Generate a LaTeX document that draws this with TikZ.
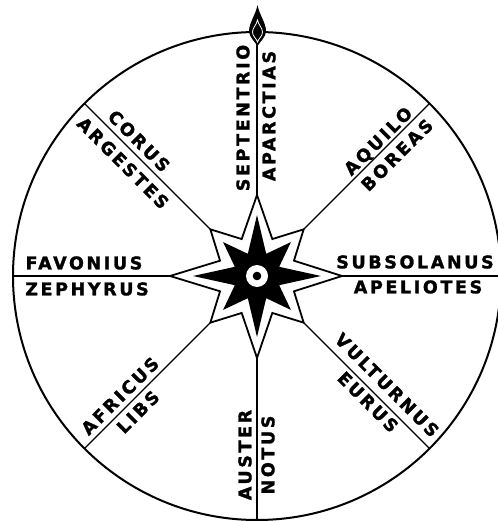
\documentclass[tikz,border=0pt]{standalone}
\usepackage{fontspec}
\newfontfamily\lblfont{DejaVu Sans Bold}[LetterSpace=15, FakeBold=1.6]
\begin{document}
\begin{tikzpicture}[x=1pt,y=-1pt,
  lbl/.style={font=\lblfont\fontsize{17.5}{17.5}\selectfont, inner sep=0pt, text height=12.7pt, text depth=0pt},
  rim/.style={line width=2pt},
  ray/.style={line width=1.3pt},
  starline/.style={line width=1.8pt, line join=miter}]
\useasboundingbox[fill=white] (0,0) rectangle (497,521);
\coordinate (c) at (257,276);
% rim
\draw[rim] (c) circle (244pt);
% rays
\foreach \a in {0,45,...,315}{
  \draw[ray] (c) -- ++(\a:244);
}
% top ornament
\fill (257.5,5) .. controls (259,14) and (266,23) .. (266,31) .. controls (266,37) and (260.5,41) .. (257.5,46)
  .. controls (254.5,41) and (249,37) .. (249,31) .. controls (249,23) and (256,14) .. (257.5,5) -- cycle;
\draw[white, line width=0.8pt] (257.5,20) .. controls (258.5,25) and (262.5,28) .. (262.5,32) .. controls (262.5,36) and (259,38) .. (257.5,42)
  .. controls (256,38) and (252.5,36) .. (252.5,32) .. controls (252.5,28) and (256.5,25) .. (257.5,20) -- cycle;
% star
\begin{scope}[shift={(c)}]
\draw[starline, fill=white] (0:85) -- (22.5:40) -- (45:66) -- (67.5:40) -- (90:82) -- (112.5:40) -- (135:66) -- (157.5:40)
  -- (180:87) -- (202.5:40) -- (225:66) -- (247.5:40) -- (270:81) -- (292.5:40) -- (315:66) -- (337.5:40) -- cycle;
\fill (0:64) -- (22.5:24) -- (45:48) -- (67.5:24) -- (90:61) -- (112.5:24) -- (135:48) -- (157.5:24)
  -- (180:64) -- (202.5:24) -- (225:48) -- (247.5:24) -- (270:61) -- (292.5:24) -- (315:48) -- (337.5:24) -- cycle;
\fill[white] (0,0) circle (11pt);
\fill (0,0) circle (4.3pt);
\end{scope}
% labels
\node[lbl, rotate=90] (sept) at (243,118) {SEPTENTRIO};
\node[lbl, rotate=90] (apar) at (269,116) {APARCTIAS};
\node[lbl, rotate=90] (aust) at (245,455) {AUSTER};
\node[lbl, rotate=90] (noti) at (268,455) {NOTUS};
\node[lbl] (favo) at (84,263) {FAVONIUS};
\node[lbl] (zeph) at (87,289) {ZEPHYRUS};
\node[lbl] (subs) at (415,262) {SUBSOLANUS};
\node[lbl] (apel) at (418,287) {APELIOTES};
\node[lbl, rotate=-45] (coru) at (139,141) {CORUS};
\node[lbl, rotate=-45] (arge) at (123,163) {ARGESTES};
\node[lbl, rotate=45] (aqui) at (378,141) {AQUILO};
\node[lbl, rotate=45] (bore) at (397,155) {BOREAS};
\node[lbl, rotate=45] (afri) at (120,396) {AFRICUS};
\node[lbl, rotate=45] (libs) at (138,412) {LIBS};
\node[lbl, rotate=-45] (vult) at (387,385) {VULTURNUS};
\node[lbl, rotate=-45] (euru) at (368,402) {EURUS};
\end{tikzpicture}
\end{document}
